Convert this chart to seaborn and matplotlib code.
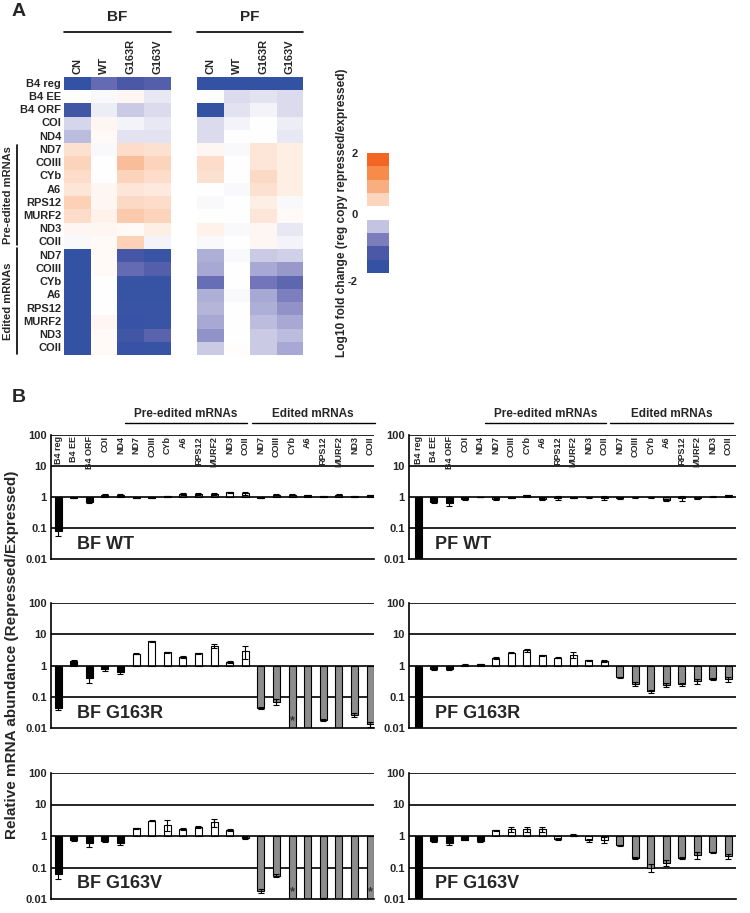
import matplotlib
matplotlib.use('Agg')
import matplotlib.pyplot as plt
from matplotlib.colors import LinearSegmentedColormap, ListedColormap
from matplotlib.lines import Line2D
import matplotlib.transforms as mtransforms
import numpy as np
import pandas as pd
import seaborn as sns

sns.set_style('white')
plt.rcParams['font.family'] = ['Liberation Sans', 'DejaVu Sans']
plt.rcParams['font.weight'] = 'bold'

W, H = 750, 913

# 유전자 / 그룹
genes = ['B4 reg', 'B4 EE', 'B4 ORF', 'COI', 'ND4',
         'ND7', 'COIII', 'CYb', 'A6', 'RPS12', 'MURF2', 'ND3', 'COII',
         'ND7', 'COIII', 'CYb', 'A6', 'RPS12', 'MURF2', 'ND3', 'COII']
groups = ['ctrl'] * 5 + ['pre'] * 8 + ['ed'] * 8
strains = ['CN', 'WT', 'G163R', 'G163V']

# A: log10 fold change
bf_cn = [-2.0, 0.0, -1.7, -0.35, -0.55, 0.35, 0.5, 0.4, 0.3, 0.55, 0.4, 0.1, -0.05,
         -2.0, -2.0, -2.0, -2.0, -2.0, -2.0, -2.0, -2.0]
bf_wt = [-1.25, -0.05, -0.15, 0.1, 0.05, -0.05, 0.0, 0.0, 0.1, 0.1, 0.15, 0.1, 0.05,
         0.05, 0.05, 0.0, 0.0, 0.0, 0.1, 0.05, 0.05]
bf_g163r = [-1.5, 0.1, -0.45, -0.1, -0.25, 0.4, 0.8, 0.5, 0.3, 0.45, 0.65, 0.05, 0.55,
            -1.6, -1.25, -1.95, -1.95, -1.85, -1.9, -1.7, -1.9]
bf_g163v = [-1.4, -0.2, -0.3, -0.2, -0.25, 0.35, 0.5, 0.4, 0.25, 0.4, 0.5, 0.2, -0.1,
            -1.85, -1.4, -1.95, -1.95, -1.85, -1.85, -1.35, -1.95]
pf_cn = [-2.0, 0.0, -2.0, -0.3, -0.3, 0.1, 0.4, 0.35, 0.0, -0.05, 0.0, 0.15, -0.05,
         -0.65, -0.7, -1.2, -0.65, -0.6, -0.7, -0.85, -0.45]
pf_wt = [-2.0, -0.3, -0.25, -0.1, 0.0, -0.05, 0.0, 0.0, -0.05, 0.0, 0.0, -0.05, 0.0,
         -0.05, 0.0, 0.0, -0.05, 0.0, 0.0, 0.0, 0.02]
pf_g163r = [-2.0, -0.25, -0.1, 0.0, 0.0, 0.3, 0.3, 0.45, 0.35, 0.2, 0.3, 0.1, 0.1,
            -0.45, -0.7, -1.1, -0.7, -0.65, -0.55, -0.45, -0.45]
pf_g163v = [-2.0, -0.3, -0.3, -0.15, -0.2, 0.2, 0.2, 0.2, 0.2, -0.05, 0.05, -0.2, -0.1,
            -0.4, -0.8, -1.3, -1.0, -0.85, -0.7, -0.55, -0.7]
cb_levels = [2, 1.5, 1, 0.5, 0, -0.5, -1, -1.5, -2]

# B: relative abundance (repressed/expressed) 및 오차
bf_wt_v = [0.08, 0.95, 0.7, 1.2, 1.2, 0.95, 0.95, 1.05, 1.25, 1.25, 1.25, 1.4, 1.3,
           0.95, 1.2, 1.2, 1.15, 1.05, 1.2, 1.05, 1.15]
bf_wt_e = [0.025, 0.03, 0.08, 0.06, 0.06, 0.03, 0.03, 0.04, 0.06, 0.05, 0.06, 0.08, 0.1,
           0.03, 0.05, 0.05, 0.05, 0.03, 0.05, 0.03, 0.05]
pf_wt_v = [0.001, 0.7, 0.62, 0.85, 1.0, 0.88, 0.95, 1.12, 0.85, 0.95, 0.95, 0.97, 0.92,
           0.92, 0.98, 0.98, 0.8, 0.9, 0.92, 1.02, 1.12]
pf_wt_e = [0, 0.06, 0.12, 0.05, 0.02, 0.05, 0.04, 0.05, 0.06, 0.15, 0.05, 0.03, 0.12,
           0.04, 0.03, 0.04, 0.08, 0.14, 0.05, 0.03, 0.06]
bf_g163r_v = [0.045, 1.4, 0.4, 0.78, 0.6, 2.35, 6.0, 2.7, 1.85, 2.5, 4.3, 1.3, 2.9,
              0.044, 0.068, 0.001, 0.001, 0.018, 0.001, 0.026, 0.013]
bf_g163r_e = [0.007, 0.08, 0.12, 0.1, 0.05, 0.1, 0.2, 0.1, 0.1, 0.1, 0.6, 0.08, 1.3,
              0.002, 0.015, 0, 0, 0.001, 0, 0.004, 0.002]
pf_g163r_v = [0.001, 0.75, 0.78, 1.05, 1.1, 1.75, 2.6, 3.1, 2.1, 1.8, 2.2, 1.45, 1.4,
              0.42, 0.26, 0.15, 0.24, 0.25, 0.31, 0.37, 0.36]
pf_g163r_e = [0, 0.04, 0.05, 0.03, 0.05, 0.08, 0.12, 0.3, 0.12, 0.1, 0.5, 0.1, 0.1,
              0.02, 0.04, 0.015, 0.03, 0.03, 0.05, 0.03, 0.06]
bf_g163v_v = [0.06, 0.72, 0.62, 0.7, 0.6, 1.75, 3.1, 2.3, 1.65, 1.95, 2.7, 1.55, 0.85,
              0.018, 0.055, 0.001, 0.001, 0.0105, 0.001, 0.001, 0.001]
bf_g163v_e = [0.016, 0.04, 0.17, 0.05, 0.08, 0.05, 0.1, 0.9, 0.12, 0.1, 0.7, 0.1, 0.05,
              0.003, 0.005, 0, 0, 0.0005, 0, 0, 0]
pf_g163v_v = [0.001, 0.68, 0.58, 0.76, 0.7, 1.5, 1.65, 1.65, 1.65, 0.82, 1.08, 0.72, 0.75,
              0.5, 0.2, 0.1, 0.14, 0.2, 0.25, 0.3, 0.23]
pf_g163v_e = [0, 0.04, 0.06, 0.04, 0.05, 0.05, 0.3, 0.3, 0.3, 0.05, 0.05, 0.08, 0.15,
              0.03, 0.01, 0.03, 0.03, 0.01, 0.06, 0.02, 0.04]
bf_g163r_star = [15]
bf_g163v_star = [15, 20]

heat_colors = ['#3452a4', '#4b58a8', '#7c7dbd', '#c4c4e2', '#ffffff',
               '#fcd5bd', '#f9ae82', '#f68b4a', '#f26522']
bar_pal = {'ctrl': 'black', 'pre': 'white', 'ed': '#8c8c8c'}

fig = plt.figure(figsize=(W / 100, H / 100), dpi=100)


def px_axes(x0, y0, x1, y1):
    return fig.add_axes([x0 / W, 1 - y1 / H, (x1 - x0) / W, (y1 - y0) / H])


def ftext(x, y, s, **kw):
    fig.text(x / W, 1 - y / H, s, **kw)


def fline(x0, y0, x1, y1, lw=1.2):
    fig.add_artist(Line2D([x0 / W, x1 / W], [1 - y0 / H, 1 - y1 / H], color='black', lw=lw))


# ---------- A: heatmap ----------
cmap = LinearSegmentedColormap.from_list('fc', heat_colors)
bf_df = pd.DataFrame({'CN': bf_cn, 'WT': bf_wt, 'G163R': bf_g163r, 'G163V': bf_g163v})
pf_df = pd.DataFrame({'CN': pf_cn, 'WT': pf_wt, 'G163R': pf_g163r, 'G163V': pf_g163v})

for df, (x0, x1), name, show_rows in [(bf_df, (64, 171), 'BF', True),
                                      (pf_df, (197, 303), 'PF', False)]:
    ax = px_axes(x0, 77, x1, 355)
    sns.heatmap(df.values, ax=ax, cmap=cmap, vmin=-2, vmax=2, cbar=False,
                xticklabels=strains, yticklabels=genes if show_rows else False)
    ax.xaxis.tick_top()
    ax.tick_params(length=0, pad=2)
    ax.set_xticklabels(strains, rotation=90, fontsize=8, fontweight='bold')
    if show_rows:
        ax.set_yticklabels(genes, rotation=0, fontsize=8, fontweight='bold')
    ax.plot([0, 1], [1.162, 1.162], transform=ax.transAxes, color='black', lw=1.2, clip_on=False)
    ax.text(0.5, 1.215, name, transform=ax.transAxes, ha='center', va='center',
            fontsize=11, fontweight='bold')

# 그룹 라벨 (왼쪽)
fline(17, 145, 17, 245)
fline(17, 248, 17, 354)
ftext(8, 195, 'Pre-edited mRNAs', rotation=90, ha='center', va='center', fontsize=8, fontweight='bold')
ftext(8, 301, 'Edited mRNAs', rotation=90, ha='center', va='center', fontsize=8, fontweight='bold')

# 컬러바
ax_cb = px_axes(367, 153, 389, 273)
sns.heatmap(np.array(cb_levels)[:, None], ax=ax_cb, cmap=ListedColormap(heat_colors),
            vmin=-2, vmax=2, cbar=False, xticklabels=False, yticklabels=False)
ftext(358, 154, '2', ha='right', va='center', fontsize=8, fontweight='bold')
ftext(358, 215, '0', ha='right', va='center', fontsize=8, fontweight='bold')
ftext(358, 282, '-2', ha='right', va='center', fontsize=8, fontweight='bold')
ftext(342, 213, 'Log10 fold change (reg copy repressed/expressed)', rotation=90,
      ha='center', va='center', fontsize=8.6, fontweight='bold')

ftext(12, 12, 'A', ha='left', va='center', fontsize=14, fontweight='bold')
ftext(12, 397, 'B', ha='left', va='center', fontsize=14, fontweight='bold')


# ---------- B: bar charts ----------
def bar_panel(ax, vals, errs, title, top=False, stars=(), xlim=(-0.45, 20.3)):
    vals = np.array(vals, dtype=float)
    errs = np.array(errs, dtype=float)
    logv = np.log10(vals)
    keys = [str(i) for i in range(len(genes))]
    df = pd.DataFrame({'key': keys, 'logv': logv, 'group': groups})
    sns.barplot(data=df, x='key', y='logv', hue='group', palette=bar_pal, order=keys,
                dodge=False, width=0.45, saturation=1, edgecolor='black', linewidth=0.8,
                legend=False, ax=ax, zorder=2)
    lo = logv - np.log10(np.maximum(vals - errs, 1e-5))
    hi = np.log10(vals + errs) - logv
    ax.errorbar(np.arange(len(genes)), logv, yerr=[lo, hi], fmt='none', ecolor='black',
                elinewidth=0.8, capsize=2, capthick=0.8, zorder=3)
    ax.set_ylim(-2, 2)
    ax.set_xlim(*xlim)
    ax.set_yticks([-2, -1, 0, 1, 2])
    ax.set_yticklabels(['0.01', '0.1', '1', '10', '100'], fontsize=8, fontweight='bold')
    ax.set_xticks([])
    ax.set_xlabel('')
    ax.set_ylabel('')
    ax.tick_params(axis='y', length=0, pad=3)
    for v in [-1, 0, 1, 2]:
        ax.axhline(v, color='black', lw=1.2, zorder=1 if v != 0 else 4)
    for s in ['top', 'right']:
        ax.spines[s].set_visible(False)
    for s in ['left', 'bottom']:
        ax.spines[s].set_color('black')
        ax.spines[s].set_linewidth(1.2)
    ax.text(0.08, 0.12, title, transform=ax.transAxes, ha='left', va='center',
            fontsize=13, fontweight='bold')
    for i in stars:
        ax.text(i, np.log10(0.016), '*', ha='center', va='center', fontsize=9,
                color='#333333', zorder=5)
    if top:
        for i, g in enumerate(genes):
            ax.text(i, 1.96, g, rotation=90, ha='center', va='top', fontsize=6.5,
                    fontweight='bold', zorder=5)
        tr = mtransforms.blended_transform_factory(ax.transData, ax.transAxes)
        for (a, b), lab in [((4.3, 12.1), 'Pre-edited mRNAs'), ((12.4, 20.3), 'Edited mRNAs')]:
            ax.plot([a, b], [1.097, 1.097], transform=tr, color='black', lw=1.0, clip_on=False)
            ax.text((a + b) / 2, 1.17, lab, transform=tr, ha='center', va='center',
                    fontsize=8.5, fontweight='bold')


rows = [(435, 559), (603, 728), (773, 899)]
left_data = [(bf_wt_v, bf_wt_e, 'BF WT', ()),
             (bf_g163r_v, bf_g163r_e, 'BF G163R', bf_g163r_star),
             (bf_g163v_v, bf_g163v_e, 'BF G163V', bf_g163v_star)]
right_data = [(pf_wt_v, pf_wt_e, 'PF WT', ()),
              (pf_g163r_v, pf_g163r_e, 'PF G163R', ()),
              (pf_g163v_v, pf_g163v_e, 'PF G163V', ())]

for r, (y0, y1) in enumerate(rows):
    v, e, t, st = left_data[r]
    ax = px_axes(51, y0, 374, y1)
    bar_panel(ax, v, e, t, top=(r == 0), stars=st, xlim=(-0.45, 20.25))
    v, e, t, st = right_data[r]
    ax = px_axes(409, y0, 736, y1)
    bar_panel(ax, v, e, t, top=(r == 0), stars=st, xlim=(-0.6, 20.5))

ftext(12, 655, 'Relative mRNA abundance (Repressed/Expressed)', rotation=90,
      ha='center', va='center', fontsize=11, fontweight='bold')

fig.savefig('out.png', dpi=100)
